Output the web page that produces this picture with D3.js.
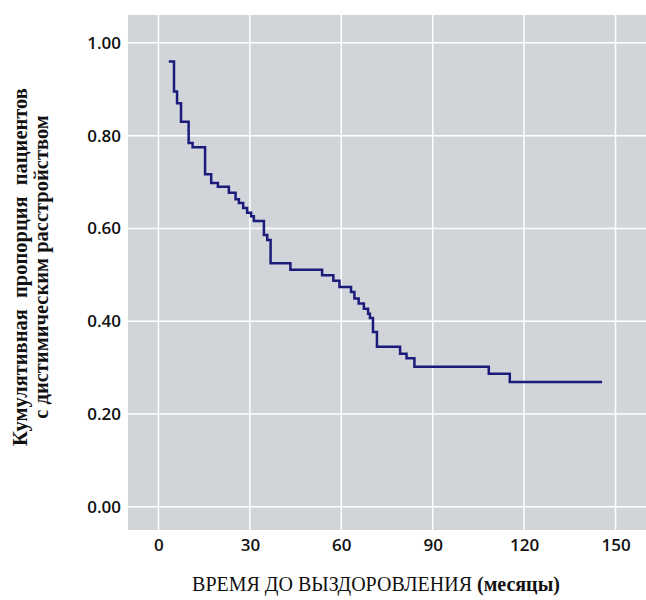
<!DOCTYPE html>
<html>
<head>
<meta charset="utf-8">
<script src="https://cdn.jsdelivr.net/npm/d3@7"></script>
<style>
	body { margin: 0; background: #fff; }
	svg { display: block; }
</style>
</head>
<body>
<svg id="chart" width="646" height="600"></svg>
<script>
// время (месяцы) и кумулятивная доля
const months = [3.4, 5.1, 6.1, 7.4, 9.9, 11.2, 15.3, 17.3, 19.5, 23.1, 25.3, 26.4, 27.8, 29.1, 30.4, 31.3, 34.6, 35.7, 36.8, 43.3, 53.7, 57.4, 59.4, 63.2, 64.3, 65.7, 67.4, 68.8, 69.4, 70.4, 71.7, 79.3, 81.4, 84.0, 108.4, 115.3, 145.6]
const proportion = [0.960, 0.895, 0.870, 0.830, 0.784, 0.775, 0.717, 0.698, 0.690, 0.677, 0.663, 0.655, 0.644, 0.634, 0.626, 0.616, 0.586, 0.575, 0.525, 0.511, 0.499, 0.487, 0.474, 0.463, 0.449, 0.438, 0.427, 0.416, 0.407, 0.377, 0.345, 0.330, 0.320, 0.302, 0.287, 0.269, 0.269]
const xTicks = [0, 30, 60, 90, 120, 150]
const yTicks = [0, 0.2, 0.4, 0.6, 0.8, 1.0]
const xTitle = 'ВРЕМЯ ДО ВЫЗДОРОВЛЕНИЯ '
const xTitleUnit = '(месяцы)'
const yTitle = ['Кумулятивная пропорция пациентов', 'с дистимическим расстройством']

const plot = { left: 128, right: 646, top: 15, bottom: 530 }
const svg = d3.select('#chart')

let x = d3.scaleLinear().domain([-10, 160]).range([plot.left, plot.right])
let y = d3.scaleLinear().domain([-0.05, 1.06]).range([plot.bottom, plot.top])

svg.append('rect')
	.attr('x', plot.left).attr('y', plot.top)
	.attr('width', plot.right - plot.left).attr('height', plot.bottom - plot.top)
	.attr('fill', '#d1d4d8')

// сетка
svg.append('g').selectAll('line').data(xTicks).join('line')
	.attr('x1', d => x(d)).attr('x2', d => x(d))
	.attr('y1', plot.top).attr('y2', plot.bottom)
	.attr('stroke', '#fff').attr('stroke-width', 1.5)
svg.append('g').selectAll('line').data(yTicks).join('line')
	.attr('y1', d => y(d)).attr('y2', d => y(d))
	.attr('x1', plot.left).attr('x2', plot.right)
	.attr('stroke', '#fff').attr('stroke-width', 1.5)

// оси без линий, только подписи
let xAxis = svg.append('g')
	.attr('transform', `translate(0,${plot.bottom})`)
	.call(d3.axisBottom(x).tickValues(xTicks).tickSize(0).tickPadding(9))
let yAxis = svg.append('g')
	.attr('transform', `translate(${plot.left},0)`)
	.call(d3.axisLeft(y).tickValues(yTicks).tickFormat(d3.format('.2f')).tickSize(0).tickPadding(7))
;[xAxis, yAxis].forEach(a => {
	a.select('.domain').remove()
	a.selectAll('text')
		.attr('fill', '#111')
		.style('font-family', '"Open Sans", sans-serif')
		.style('font-weight', 600)
		.style('font-size', '17px')
})

// кривая
let data = months.map((m, i) => ({ m, p: proportion[i] }))
let line = d3.line()
	.x(d => x(d.m))
	.y(d => y(d.p))
	.curve(d3.curveStepAfter)
svg.append('path')
	.attr('d', line(data))
	.attr('fill', 'none')
	.attr('stroke', '#1b1b7c')
	.attr('stroke-width', 2.5)

// подписи осей
let xt = svg.append('text')
	.attr('x', 376).attr('y', 591)
	.attr('text-anchor', 'middle')
	.attr('fill', '#111')
	.style('font-family', '"Liberation Serif", "Times New Roman", serif')
	.style('font-size', '20px')
xt.append('tspan').text(xTitle)
xt.append('tspan').style('font-weight', 'bold').text(xTitleUnit)

let yt = svg.append('text')
	.attr('transform', 'translate(0,267) rotate(-90)')
	.attr('text-anchor', 'middle')
	.attr('fill', '#111')
	.style('font-family', '"Liberation Serif", "Times New Roman", serif')
	.style('font-weight', 'bold')
	.style('font-size', '20.5px')
yt.append('tspan').attr('x', 0).attr('y', 27).style('word-spacing', '6px').text(yTitle[0])
yt.append('tspan').attr('x', 0).attr('y', 48).text(yTitle[1])
</script>
</body>
</html>
